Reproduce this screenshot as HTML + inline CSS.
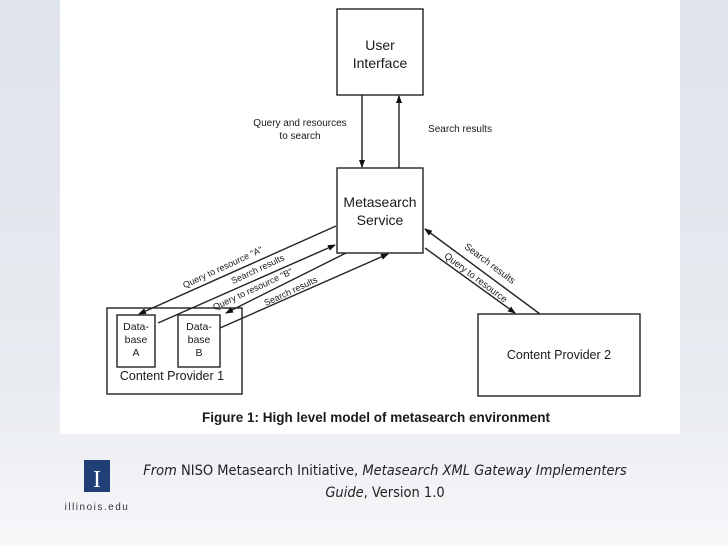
<!DOCTYPE html>
<html><head><style>
body{margin:0;width:728px;height:546px;overflow:hidden;background:linear-gradient(#dfe3ea 0%,#e8ebf0 70%,#f6f7f9 100%);font-family:"Liberation Sans",sans-serif;}
#fig{position:absolute;left:60px;top:0;width:620px;height:434px;background:#fff;}
</style></head><body>
<div id="fig"></div>
<svg width="728" height="546" style="position:absolute;left:0;top:0" font-family="Liberation Sans, sans-serif">
<defs><marker id="a" markerWidth="8" markerHeight="8" refX="7" refY="4" orient="auto" markerUnits="userSpaceOnUse"><path d="M0,1 L8,4 L0,7z" fill="#111"/></marker></defs>
<g fill="none" stroke="#222" stroke-width="1.4">
<rect x="337" y="9" width="86" height="86"/>
<rect x="337" y="168" width="86" height="85"/>
<rect x="107" y="308" width="135" height="86"/>
<rect x="117" y="315" width="38" height="52"/>
<rect x="178" y="315" width="42" height="52"/>
<rect x="478" y="314" width="162" height="82"/>
<line x1="362" y1="95" x2="362" y2="167" marker-end="url(#a)"/>
<line x1="399" y1="168" x2="399" y2="96" marker-end="url(#a)"/>
<line x1="336" y1="226" x2="139" y2="314" marker-end="url(#a)"/>
<line x1="158" y1="323" x2="335" y2="245" marker-end="url(#a)"/>
<line x1="346" y1="253" x2="226" y2="313" marker-end="url(#a)"/>
<line x1="220" y1="328" x2="388" y2="254" marker-end="url(#a)"/>
<line x1="540" y1="314" x2="425" y2="229" marker-end="url(#a)"/>
<line x1="425" y1="248" x2="515" y2="313" marker-end="url(#a)"/>
</g>
<g fill="#1a1a1a" text-anchor="middle">
<text x="380" y="50" font-size="14">User</text>
<text x="380" y="68" font-size="14">Interface</text>
<text x="380" y="207" font-size="14">Metasearch</text>
<text x="380" y="225" font-size="14">Service</text>
<text x="136" y="330" font-size="10.5">Data-</text>
<text x="136" y="343" font-size="10.5">base</text>
<text x="136" y="356" font-size="10.5">A</text>
<text x="199" y="330" font-size="10.5">Data-</text>
<text x="199" y="343" font-size="10.5">base</text>
<text x="199" y="356" font-size="10.5">B</text>
<text x="172" y="380" font-size="12.5">Content Provider 1</text>
<text x="559" y="359" font-size="12.5">Content Provider 2</text>
<text x="300" y="126" font-size="10">Query and resources</text>
<text x="300" y="139" font-size="10">to search</text>
<text x="460" y="132" font-size="10">Search results</text>
<text font-size="9" transform="translate(224,270) rotate(-25)">Query to resource "A"</text>
<text font-size="9" transform="translate(259,272) rotate(-25)">Search results</text>
<text font-size="9" transform="translate(254,292) rotate(-25)">Query to resource "B"</text>
<text font-size="9" transform="translate(292,294) rotate(-25)">Search results</text>
<text font-size="9.5" transform="translate(488,266) rotate(37)">Search results</text>
<text font-size="9.5" transform="translate(474,280) rotate(37)">Query to resource</text>
<text x="376" y="422" font-size="13.5" font-weight="bold">Figure 1: High level model of metasearch environment</text>
</g>
<rect x="84" y="460" width="26" height="32" fill="#1f3f77"/>
<text x="97" y="487" font-size="24" fill="#fff" text-anchor="middle" font-family="Liberation Serif, serif">I</text>
<text x="97" y="510" font-size="10" fill="#333" text-anchor="middle" letter-spacing="1.5">illinois.edu</text>
<g font-size="14.5" fill="#222" text-anchor="middle" font-family="DejaVu Sans Condensed, Liberation Sans, sans-serif">
<text x="385" y="475"><tspan font-style="italic">From</tspan> NISO Metasearch Initiative, <tspan font-style="italic">Metasearch XML Gateway Implementers</tspan></text>
<text x="385" y="497"><tspan font-style="italic">Guide</tspan>, Version 1.0</text>
</g>
</svg>
</body></html>
